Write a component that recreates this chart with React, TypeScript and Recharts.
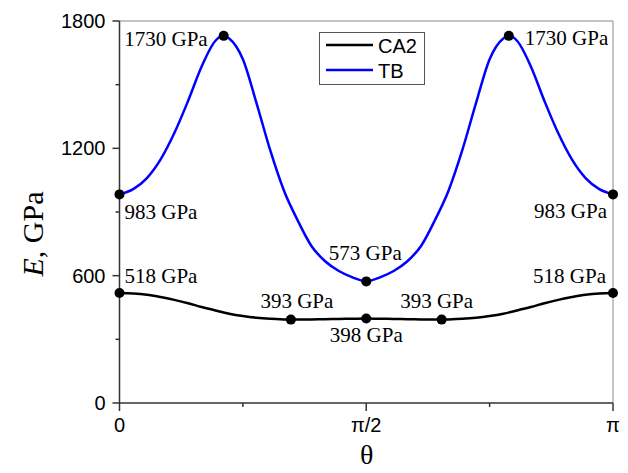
import {
  ComposedChart,
  Line,
  Scatter,
  XAxis,
  YAxis,
  ReferenceLine,
  Legend,
} from "recharts";

// theta in degrees (0..180 shown as 0..pi), E in GPa
const tbAngles = [0, 5, 10, 15, 20, 25, 30, 35, 38, 40, 45, 50, 55, 60, 65, 70, 75, 80, 85, 90, 95, 100, 105, 110, 115, 120, 125, 130, 135, 140, 142, 145, 150, 155, 160, 165, 170, 175, 180];
const tbValues = [983, 1008, 1060, 1148, 1272, 1423, 1587, 1707, 1730, 1718, 1620, 1412, 1190, 1000, 860, 740, 668, 622, 592, 573, 592, 622, 668, 740, 860, 1000, 1190, 1412, 1620, 1718, 1730, 1707, 1587, 1423, 1272, 1148, 1060, 1008, 983];

const ca2Angles = [0, 5, 10, 15, 20, 25, 30, 35, 40, 45, 50, 55, 60, 62.5, 65, 70, 75, 80, 85, 90, 95, 100, 105, 110, 115, 117.5, 120, 125, 130, 135, 140, 145, 150, 155, 160, 165, 170, 175, 180];
const ca2Values = [518, 516, 510, 499, 486, 470, 452, 436, 421, 410, 402, 397, 394, 393, 393, 394, 395, 396, 397, 398, 397, 396, 395, 394, 393, 393, 394, 397, 402, 410, 421, 436, 452, 470, 486, 499, 510, 516, 518];

const tbMarkAngles = [0, 38, 90, 142, 180];
const tbMarkValues = [983, 1730, 573, 1730, 983];
const ca2MarkAngles = [0, 62.5, 90, 117.5, 180];
const ca2MarkValues = [518, 393, 398, 393, 518];

const yTicks = [0, 300, 600, 900, 1200, 1500, 1800];
const xTicks = [0, 45, 90, 135, 180];
const xTickLabels: Record<number, string> = { 0: "0", 90: "π/2", 180: "π" };

const tbData = tbAngles.map((deg, i) => ({ deg, e: tbValues[i] }));
const ca2Data = ca2Angles.map((deg, i) => ({ deg, e: ca2Values[i] }));
const tbMarks = tbMarkAngles.map((deg, i) => ({ deg, e: tbMarkValues[i], series: "tb", idx: i }));
const ca2Marks = ca2MarkAngles.map((deg, i) => ({ deg, e: ca2MarkValues[i], series: "ca2", idx: i }));

// label offsets from the dot (text baseline)
const labelPlace: Record<string, { dx: number; dy: number; anchor: string }[]> = {
  tb: [
    { dx: 5, dy: 25, anchor: "start" },
    { dx: -16, dy: 10, anchor: "end" },
    { dx: -1, dy: -21, anchor: "middle" },
    { dx: 16, dy: 9, anchor: "start" },
    { dx: -6, dy: 24, anchor: "end" },
  ],
  ca2: [
    { dx: 5, dy: -10, anchor: "start" },
    { dx: 6, dy: -12, anchor: "middle" },
    { dx: 0, dy: 23, anchor: "middle" },
    { dx: -5, dy: -12, anchor: "middle" },
    { dx: -7, dy: -10, anchor: "end" },
  ],
};

const serif = "'Liberation Serif', 'Times New Roman', serif";
const sans = "'Liberation Sans', Arial, sans-serif";

const MarkDot = (props: any) => {
  const { cx, cy, payload } = props;
  const p = labelPlace[payload.series][payload.idx];
  return (
    <g>
      <circle cx={cx} cy={cy} r={5} fill="#000" />
      <text
        x={cx + p.dx}
        y={cy + p.dy}
        textAnchor={p.anchor as any}
        fontFamily={serif}
        fontSize={21}
        fill="#000"
      >
        {`${payload.e} GPa`}
      </text>
    </g>
  );
};

const YTick = ({ x, y, payload }: any) => {
  const major = payload.value % 600 === 0;
  return (
    <g>
      <line x1={x} x2={x - (major ? 7 : 4)} y1={y} y2={y} stroke="#333" strokeWidth={1.5} />
      {major && (
        <text x={x - 14} y={y + 7} textAnchor="end" fontFamily={sans} fontSize={20} fill="#000">
          {payload.value}
        </text>
      )}
    </g>
  );
};

const XTick = ({ x, y, payload }: any) => {
  const label = xTickLabels[payload.value];
  return (
    <g>
      <line x1={x} x2={x} y1={y} y2={y + (label ? 8 : 4)} stroke="#333" strokeWidth={1.5} />
      {label && (
        <text x={x} y={y + 29} textAnchor="middle" fontFamily={sans} fontSize={20} fill="#000">
          {label}
        </text>
      )}
    </g>
  );
};

const LegendBox = () => (
  <svg width={106} height={53} style={{ display: "block" }}>
    <rect x={0.5} y={0.5} width={105} height={52} fill="#fff" stroke="#555" strokeWidth={1} />
    <line x1={7} x2={54} y1={13} y2={13} stroke="#000" strokeWidth={2.5} />
    <line x1={7} x2={54} y1={38} y2={38} stroke="#0000ff" strokeWidth={2.5} />
    <text x={59} y={20.5} fontFamily={sans} fontSize={20} fill="#000">CA2</text>
    <text x={59} y={45.5} fontFamily={sans} fontSize={20} fill="#000">TB</text>
  </svg>
);

export default function App() {
  return (
    <div style={{ position: "absolute", left: 0, top: 0, width: 628, height: 473, background: "#fff" }}>
      <ComposedChart width={628} height={473} margin={{ top: 21, right: 15, bottom: 30, left: 0 }}>
        <XAxis
          dataKey="deg"
          type="number"
          domain={[0, 180]}
          ticks={xTicks}
          interval={0}
          height={40}
          tickSize={0}
          tickMargin={0}
          tick={<XTick />}
          axisLine={{ stroke: "#333", strokeWidth: 1.5 }}
          allowDuplicatedCategory={false}
        />
        <YAxis
          dataKey="e"
          type="number"
          domain={[0, 1800]}
          ticks={yTicks}
          interval={0}
          width={119.5}
          tickSize={0}
          tickMargin={0}
          tick={<YTick />}
          axisLine={{ stroke: "#333", strokeWidth: 1.5 }}
        />
        <ReferenceLine y={1800} stroke="#8a8a8a" strokeWidth={1} />
        <ReferenceLine x={180} stroke="#8a8a8a" strokeWidth={1} />
        <Legend
          layout="horizontal"
          verticalAlign="middle"
          align="center"
          content={<LegendBox />}
          wrapperStyle={{ left: 319, top: 32, width: 106, height: 53 }}
        />
        <Line
          data={ca2Data}
          dataKey="e"
          name="CA2"
          type="monotone"
          stroke="#000"
          strokeWidth={2.5}
          dot={false}
          activeDot={false}
          isAnimationActive={false}
        />
        <Line
          data={tbData}
          dataKey="e"
          name="TB"
          type="monotone"
          stroke="#0000ff"
          strokeWidth={2.5}
          dot={false}
          activeDot={false}
          isAnimationActive={false}
        />
        <Scatter data={tbMarks} dataKey="e" shape={<MarkDot />} isAnimationActive={false} />
        <Scatter data={ca2Marks} dataKey="e" shape={<MarkDot />} isAnimationActive={false} />
      </ComposedChart>
      <svg
        width={628}
        height={473}
        style={{ position: "absolute", left: 0, top: 0, pointerEvents: "none" }}
      >
        <text x={366.7} y={464} textAnchor="middle" fontFamily={serif} fontSize={28} fill="#000">
          θ
        </text>
        <text
          transform="translate(43,234) rotate(-90)"
          textAnchor="middle"
          fontFamily={serif}
          fontSize={30}
          fill="#000"
        >
          <tspan fontStyle="italic">E</tspan>
          <tspan>, GPa</tspan>
        </text>
      </svg>
    </div>
  );
}
